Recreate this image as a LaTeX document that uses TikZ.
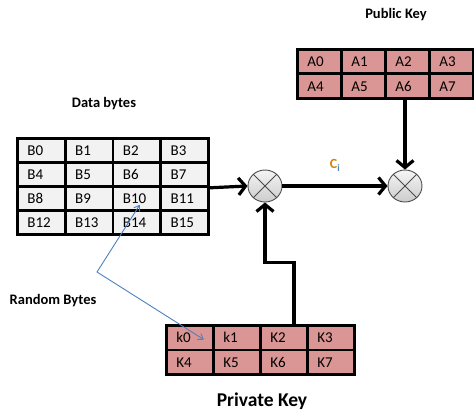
\documentclass[tikz,border=0pt]{standalone}
\usepackage{fontspec}
\setmainfont{Carlito}
\usetikzlibrary{positioning}
\usetikzlibrary{calc}
\usetikzlibrary{arrows.meta}
\definecolor{cellgray}{HTML}{F2F2F2}
\definecolor{keypink}{HTML}{D99694}
\definecolor{randblue}{HTML}{4F81BD}
\definecolor{ciorange}{HTML}{D9840A}
\tikzset{
  cell/.style={draw=black, line width=2.8pt, anchor=north west, inner xsep=10pt, inner ysep=0pt, align=left, text height=10pt, text depth=0pt, font=\fontsize{15}{17}\selectfont},
  datacell/.style={cell, fill=cellgray, text width=27.75pt, minimum height=24pt},
  keycell/.style={cell, fill=keypink, text width=#1, minimum height=24.5pt},
  title/.style={font=\bfseries\fontsize{14.5}{17}\selectfont},
  xorbox/.style={ellipse, draw=black!70, line width=0.9pt, minimum width=34pt, minimum height=32pt, inner sep=0pt, top color=gray!8, bottom color=gray!40},
  flow/.style={line width=3.2pt, -{Straight Barb[length=7pt,width=17pt]}},
  randarrow/.style={draw=randblue, line width=0.9pt, {Straight Barb[length=5pt,width=7pt]}-{Straight Barb[length=5pt,width=7pt]}}
}
\usetikzlibrary{shapes.geometric}
\begin{document}
\begin{tikzpicture}[x=1pt, y=-1pt]
  \useasboundingbox (0,0) rectangle (474,412);

  \foreach \r in {0,...,3}
    \foreach \c in {0,...,3} {
      \pgfmathtruncatemacro\n{4*\r+\c}
      \node[datacell] (b\n) at (16+47.75*\c, 137+24*\r) {B\n};
    }

  \foreach \r in {0,1}
    \foreach \c in {0,...,3} {
      \pgfmathtruncatemacro\n{4*\r+\c}
      \node[keycell=24pt] (a\n) at (296+44*\c, 48+24.5*\r) {A\n};
      \node[keycell=27pt] (k\n) at (165+47*\c, 324+24.5*\r) {\ifnum\n<2 k\n\else K\n\fi};
    }

  \node[title] (data) at (104,104) {Data bytes};
  \node[title] (pub) at (396,15) {Public Key};
  \node[title] (rand) at (53,301) {Random Bytes};
  \node[font=\bfseries\fontsize{19.5}{22}\selectfont] (priv) at (262,401) {Private Key};

  \node[xorbox] (xa) at (265,186) {};
  \node[xorbox] (xb) at (405,186) {};
  \foreach \x in {xa,xb} {
    \draw[black!70, line width=0.9pt] (\x.45) -- (\x.225);
    \draw[black!70, line width=0.9pt] (\x.135) -- (\x.315);
  }

  \draw[flow] (b7.south east) -- (xa.west);
  \draw[flow] (xa.east) -- node[above=10pt, font=\bfseries\fontsize{14}{16}\selectfont] (ci) {\textcolor{ciorange}{C}\textsubscript{\textcolor{randblue}{i}}} (xb.west);
  \draw[flow] (xb |- a6.south) -- (xb.north);
  \draw[flow] ([xshift=10pt]k2.north) |- ([yshift=-60pt]xa.south) -- (xa.south);

  \coordinate (bend) at (97,272);
  \draw[randarrow] ([xshift=3pt,yshift=7pt]b10.south) -- (bend) -- ([xshift=14pt,yshift=-2pt]k0.center);
\end{tikzpicture}
\end{document}
